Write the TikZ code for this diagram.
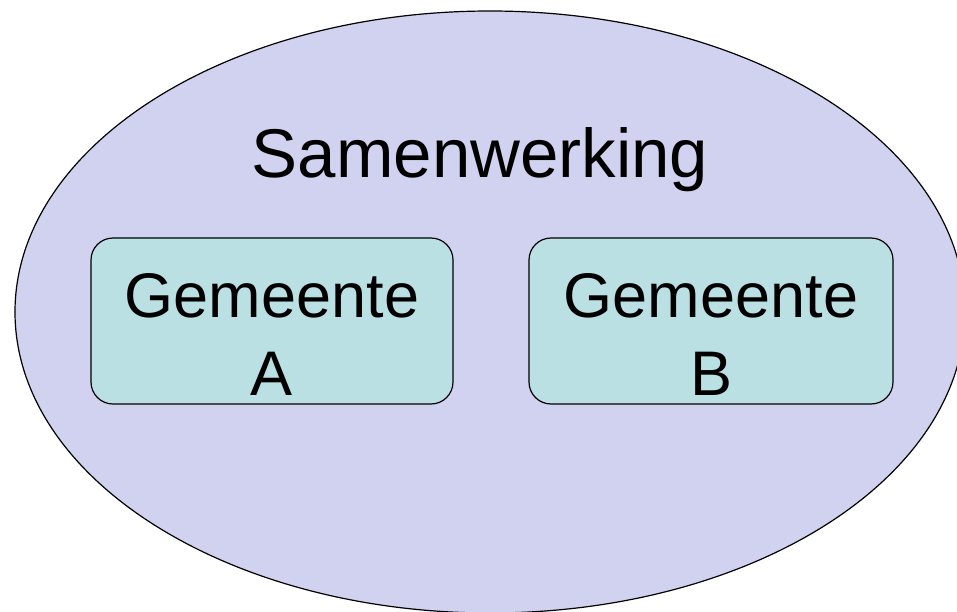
\documentclass[tikz,border=0pt]{standalone}
\usepackage{fontspec}
\setmainfont{Liberation Sans}
\usetikzlibrary{shapes.geometric}
\definecolor{samenfill}{RGB}{209,209,240}
\definecolor{gemfill}{RGB}{186,224,228}
\begin{document}
\begin{tikzpicture}[x=1pt,y=1pt,
        gembox/.style={draw=black, line width=1.2pt, fill=gemfill, rounded corners=22pt,
            minimum width=362pt, minimum height=166pt, inner sep=0pt},
        gemtext/.style={align=center, inner sep=0pt, font=\fontsize{63}{78}\selectfont}]
            \useasboundingbox (0,0) rectangle (957,-611);
            \clip (0,0) rectangle (957,-611);
            \node [ellipse, draw=black, line width=1.2pt, fill=samenfill,
                minimum width=950pt, minimum height=602pt, inner sep=0pt] (samen) at (490,-312) {};
            \node [anchor=base, inner sep=0pt, font=\fontsize{69}{83}\selectfont] (samentext) at (480,-177) {Samenwerking};
            \node [gembox] (boxA) at (272,-321) {};
            \node [gembox, minimum width=364pt] (boxB) at (711,-321) {};
            \node [gemtext] (txtA) at ([yshift=-13.5pt]boxA.center) {Gemeente\\A};
            \node [gemtext] (txtB) at ([yshift=-13.5pt]boxB.center) {Gemeente\\B};
        \end{tikzpicture}
\end{document}
